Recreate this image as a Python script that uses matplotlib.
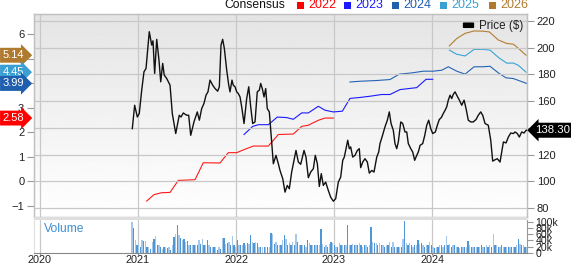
import numpy as np
import matplotlib
matplotlib.use("Agg")
import matplotlib.pyplot as plt
from matplotlib.patches import Rectangle, FancyBboxPatch
import matplotlib.transforms as mtransforms

plt.rcParams['font.family'] = ['Liberation Sans', 'DejaVu Sans']

# ---------------- data ----------------
years = [2020, 2021, 2022, 2023, 2024]

price_t = [2020.942, 2020.966, 2020.993, 2021.013, 2021.038, 2021.061, 2021.082, 2021.115, 2021.140, 2021.153,
           2021.170, 2021.191, 2021.214, 2021.232, 2021.252, 2021.268, 2021.293, 2021.327, 2021.350, 2021.385,
           2021.421, 2021.439, 2021.462, 2021.497, 2021.517, 2021.538, 2021.571, 2021.605, 2021.626, 2021.650,
           2021.673, 2021.694, 2021.714, 2021.735, 2021.762, 2021.786, 2021.813, 2021.830, 2021.847, 2021.864,
           2021.881, 2021.905, 2021.926, 2021.939, 2021.959, 2021.972, 2021.990, 2022.007, 2022.023, 2022.041,
           2022.058, 2022.082, 2022.109, 2022.130, 2022.150, 2022.170, 2022.194, 2022.217, 2022.238, 2022.252,
           2022.268, 2022.286, 2022.303, 2022.319, 2022.340, 2022.381, 2022.408, 2022.432, 2022.449, 2022.477,
           2022.500, 2022.523, 2022.544, 2022.568, 2022.612, 2022.636, 2022.660, 2022.694, 2022.714, 2022.738,
           2022.762, 2022.789, 2022.809, 2022.830, 2022.850, 2022.870, 2022.891, 2022.915, 2022.942, 2022.966,
           2022.993, 2023.017, 2023.044, 2023.068, 2023.089, 2023.105, 2023.140, 2023.156, 2023.170, 2023.191,
           2023.214, 2023.238, 2023.258, 2023.272, 2023.293, 2023.316, 2023.340, 2023.360, 2023.385, 2023.408,
           2023.436, 2023.456, 2023.469, 2023.490, 2023.520, 2023.544, 2023.564, 2023.582, 2023.605, 2023.622,
           2023.640, 2023.656, 2023.681, 2023.701, 2023.724, 2023.742, 2023.758, 2023.783, 2023.803, 2023.823,
           2023.844, 2023.860, 2023.878, 2023.905, 2023.926, 2023.946, 2023.966, 2023.987, 2024.007, 2024.034,
           2024.054, 2024.074, 2024.095, 2024.115, 2024.133, 2024.150, 2024.166, 2024.184, 2024.201, 2024.217,
           2024.235, 2024.252, 2024.279, 2024.303, 2024.327, 2024.347, 2024.370, 2024.395, 2024.421, 2024.449,
           2024.472, 2024.497, 2024.517, 2024.541, 2024.574, 2024.599, 2024.619, 2024.643, 2024.666, 2024.694,
           2024.711, 2024.728, 2024.755, 2024.779, 2024.803, 2024.830, 2024.847, 2024.870, 2024.891, 2024.915,
           2024.939, 2024.959, 2024.969]
price_v = [139.5, 157.0, 148.2, 150.8, 168.3, 182.0, 184.5, 212.0, 202.0, 205.2,
           180.8, 206.3, 190.8, 174.5, 188.3, 179.5, 177.0, 172.0, 150.8, 135.8,
           149.5, 148.2, 151.2, 149.5, 149.5, 134.5, 144.5, 152.0, 145.8, 154.5,
           158.3, 164.5, 167.0, 175.8, 172.0, 169.5, 167.5, 170.8, 202.0, 206.3,
           199.5, 183.3, 172.0, 167.0, 175.8, 172.0, 170.8, 167.0, 165.8, 163.2,
           155.8, 143.3, 162.0, 170.8, 155.8, 143.3, 144.5, 167.0, 168.3, 173.3,
           169.5, 163.2, 169.5, 154.5, 152.0, 113.2, 119.5, 113.2, 108.2, 102.0,
           92.0, 97.0, 94.5, 107.0, 123.2, 114.5, 112.8, 123.2, 118.2, 102.8,
           107.0, 109.5, 119.5, 113.2, 96.2, 105.8, 97.0, 99.5, 93.2, 88.2,
           85.2, 87.0, 99.5, 103.2, 115.8, 118.2, 130.8, 124.5, 125.8, 118.2,
           119.5, 123.2, 124.5, 110.3, 114.5, 117.0, 114.5, 106.2, 108.2, 107.0,
           118.2, 122.0, 128.3, 133.2, 140.8, 145.8, 152.0, 143.3, 138.2, 128.3,
           124.5, 129.5, 144.5, 143.3, 137.0, 137.0, 128.3, 124.5, 122.0, 115.8,
           119.5, 122.0, 127.0, 128.3, 134.5, 142.0, 145.8, 139.5, 135.8, 137.0,
           142.0, 146.3, 147.8, 150.8, 153.2, 155.8, 160.8, 164.5, 162.0, 165.2,
           167.0, 164.5, 160.8, 157.0, 160.8, 154.5, 145.8, 144.5, 144.5, 146.3,
           149.5, 152.0, 149.5, 143.3, 142.0, 130.8, 115.2, 116.2, 117.0, 114.5,
           122.0, 129.5, 128.8, 133.2, 136.2, 135.8, 137.0, 135.8, 133.2, 137.0,
           136.2, 138.2, 138.3]
last_price = 138.30

eps22_t = [2021.089, 2021.163, 2021.242, 2021.327, 2021.411, 2021.582, 2021.666, 2021.837, 2021.921, 2022.007,
           2022.092, 2022.177, 2022.330, 2022.432, 2022.585, 2022.670, 2022.738, 2022.840, 2022.908, 2022.993]
eps22_v = [-0.80, -0.54, -0.46, -0.45, 0.04, 0.07, 0.76, 0.75, 1.17, 1.17,
           1.31, 1.44, 1.44, 1.91, 1.93, 2.24, 2.29, 2.49, 2.58, 2.58]

eps23_t = [2022.082, 2022.170, 2022.228, 2022.330, 2022.421, 2022.517, 2022.585, 2022.670, 2022.738, 2022.840,
           2022.908, 2022.993, 2023.085, 2023.163, 2023.265, 2023.367, 2023.487, 2023.571, 2023.673, 2023.758,
           2023.844, 2023.939, 2024.007]
eps23_v = [1.91, 2.24, 2.31, 2.31, 2.62, 2.60, 2.53, 2.79, 2.79, 3.06,
           2.90, 2.83, 2.86, 3.38, 3.42, 3.47, 3.54, 3.54, 3.74, 3.78,
           3.82, 4.16, 4.16]

eps24_t = [2023.163, 2023.265, 2023.436, 2023.571, 2023.666, 2023.793, 2023.911, 2024.013, 2024.099, 2024.166,
           2024.252, 2024.337, 2024.429, 2024.517, 2024.592, 2024.677, 2024.755, 2024.830, 2024.966]
eps24_v = [4.05, 4.08, 4.11, 4.15, 4.37, 4.42, 4.49, 4.49, 4.53, 4.67,
           4.49, 4.37, 4.67, 4.67, 4.69, 4.42, 4.22, 4.19, 3.99]

eps25_t = [2024.177, 2024.252, 2024.337, 2024.429, 2024.517, 2024.592, 2024.677, 2024.762, 2024.830, 2024.881, 2024.959]
eps25_v = [5.35, 5.18, 5.11, 5.38, 5.38, 5.35, 5.05, 4.82, 4.82, 4.73, 4.45]

eps26_t = [2024.177, 2024.252, 2024.337, 2024.429, 2024.517, 2024.585, 2024.677, 2024.762, 2024.830, 2024.881, 2024.959]
eps26_v = [5.52, 5.82, 6.03, 6.13, 6.12, 6.09, 5.76, 5.62, 5.59, 5.42, 5.14]

series_names = ['2022', '2023', '2024', '2025', '2026']
series_colors = ['#ff1a1a', '#1a1aff', '#2463b5', '#3aa3d6', '#b27d2e']
label_colors = ['#ff0000', '#1a1aff', '#1f5fae', '#3a9fd2', '#b07a2e']

vol_a = [99, 81, 40, 24, 29, 18, 42, 38, 38, 20, 20, 13, 34, 45, 54, 24, 24, 18, 13, 18,
         18, 15, 20, 10, 27, 51, 61, 90, 56, 48, 40, 45, 34, 38, 24, 24, 27, 24, 24, 24,
         42, 29, 45, 24, 27, 42, 24, 20, 18, 18, 18, 10, 18, 13, 48, 48, 29, 31, 34, 27,
         55, 27, 18, 42, 24, 24, 27, 31, 24, 31, 29, 56, 34, 31, 34, 31, 20, 20, 20]
vol_b = [20, 20, 20, 20, 63, 61, 29, 34, 26, 24, 24, 42, 58, 45, 24, 31, 27, 34, 24, 61,
         34, 24, 24, 27, 24, 18, 42, 31, 24, 24, 27, 24, 24, 27, 77, 29, 18, 24, 18, 29,
         34, 31, 27, 18, 18, 31, 24, 27, 24, 27, 88, 24, 24, 29, 24, 27, 24, 31, 24, 20,
         27, 24, 20, 24, 83, 34, 31, 31, 27, 31, 24, 24, 18, 24, 27, 34, 18, 34, 20, 20]
vol_c = [20, 20, 20, 45, 103, 31, 24, 31, 24, 20, 24, 27, 42, 29, 31, 27, 18, 26, 26, 34,
         24, 18, 15, 18, 18, 24, 27, 20, 24, 54, 24, 29, 20, 27, 24, 18, 18, 15, 18, 20,
         18, 18, 38, 24, 20, 18, 18, 20, 18, 20, 24, 18, 20, 24, 20, 24, 20, 61, 24, 24,
         18, 20, 27, 18, 20, 18, 18, 18, 18, 20, 18, 24, 45, 29, 26, 24, 20, 18]
vol_k = vol_a + vol_b + vol_c
vol_start, vol_end = 2020.94, 2024.965

# ---------------- layout (pixels) ----------------
W, H = 571, 264
fig = plt.figure(figsize=(W / 100, H / 100), dpi=100)
fig.patch.set_facecolor('white')


def fx(px):
    return px / W


def fy(py):
    return 1 - py / H


L, R, T, B = 34, 527, 14, 216.5
VT, VB = 219.5, 253
ax = fig.add_axes([fx(L), fy(B), fx(R - L), (B - T) / H])
axp = ax.twinx()
axv = fig.add_axes([fx(L), fy(VB), fx(R - L), (VB - VT) / H])

xlim = (2019.939, 2024.969)
grid_c = '#c8c8c8'
spine_c = '#c0c0c0'
txt_c = '#222222'

# gradient background
grad = np.linspace(0.895, 1.0, 256).reshape(-1, 1)
ax.imshow(grad, cmap='gray', vmin=0, vmax=1, extent=[0, 1, 0, 1], transform=ax.transAxes,
          aspect='auto', zorder=0, interpolation='bilinear')

# EPS lines
eps_t = [eps22_t, eps23_t, eps24_t, eps25_t, eps26_t]
eps_v = [eps22_v, eps23_v, eps24_v, eps25_v, eps26_v]
for t, v, c in zip(eps_t, eps_v, series_colors):
    ax.plot(t, v, color=c, lw=0.8, zorder=2)

ax.set_xlim(*xlim)
ax.set_ylim(-1.43, 6.82)
ax.set_yticks(list(range(-1, 7)))
ax.set_xticks(years)
ax.tick_params(axis='x', length=0, labelbottom=False)
ax.tick_params(axis='y', direction='out', length=5, width=0.8, color='#999999',
               labelsize=8, labelcolor=txt_c, pad=2)
ax.grid(axis='x', color=grid_c, lw=0.9, zorder=0.5)
ax.set_axisbelow(True)

# price
axp.plot(price_t, price_v, color='#111111', lw=1.0, zorder=3)
axp.set_xlim(*xlim)
axp.set_ylim(73.75, 225.25)
axp.set_yticks(list(range(80, 221, 20)))
axp.tick_params(axis='y', direction='out', length=5, width=0.8, color='#999999',
                labelsize=8, labelcolor=txt_c, pad=2)
axp.grid(axis='y', color=grid_c, lw=0.9)
axp.set_axisbelow(True)

for a in (ax, axp):
    for s in a.spines.values():
        s.set_color(spine_c)
        s.set_linewidth(0.9)

# volume
vol_t = np.linspace(vol_start, vol_end, len(vol_k))
bar_cols = ['#a6c8ea' if i % 2 == 0 else '#5196d4' for i in range(len(vol_k))]
axv.bar(vol_t, vol_k, width=0.0135, color=bar_cols, linewidth=0, zorder=2)
axv.set_xlim(*xlim)
axv.set_ylim(0, 106.5)
axv.set_xticks(years)
axv.set_xticklabels([str(y) for y in years])
axv.tick_params(axis='x', direction='out', length=1.5, color='#888888', labelsize=7.8,
                labelcolor=txt_c, pad=0)
axv.yaxis.tick_right()
axv.set_yticks([0, 20, 40, 60, 80, 100])
axv.set_yticklabels(['0', '20k', '40k', '60k', '80k', '100k'])
axv.tick_params(axis='y', direction='out', length=4, width=0.8, color='#999999',
                labelsize=7.6, labelcolor=txt_c, pad=2)
axv.grid(axis='x', color=grid_c, lw=0.9, zorder=0.5)
axv.set_axisbelow(True)
axv.set_facecolor('white')
axv.spines['top'].set_visible(False)
axv.spines['left'].set_color('#e0e0e0')
axv.spines['right'].set_color('#999999')
axv.spines['bottom'].set_color('#888888')
axv.text((44 - L) / (R - L), (VB - 229) / (VB - VT), 'Volume', transform=axv.transAxes,
         color='#3d8fd3', fontsize=8.7, va='center', ha='left')

# separator band
fig.patches.append(Rectangle((fx(L), fy(VT)), fx(R - L), (VT - B) / H, transform=fig.transFigure,
                             facecolor='#dedede', edgecolor='none', zorder=5))

# left value labels
blend_l = mtransforms.blended_transform_factory(fig.transFigure, ax.transData)
for name in ['2026', '2025', '2024', '2022']:
    i = series_names.index(name)
    val = eps_v[i][-1]
    ax.text(fx(2.5), val, f'{val:.2f}', transform=blend_l, color='white', fontsize=8,
            ha='left', va='center', zorder=10, clip_on=False,
            bbox=dict(boxstyle='rarrow,pad=0.22', fc=label_colors[i], ec='none'))

# right price label
blend_r = mtransforms.blended_transform_factory(fig.transFigure, axp.transData)
axp.text(fx(535.5), last_price, f'{last_price:.2f}', transform=blend_r, color='white', fontsize=8.2,
         ha='left', va='center', zorder=10, clip_on=False,
         bbox=dict(boxstyle='larrow,pad=0.22', fc='black', ec='none'))

# price legend
fig.patches.append(FancyBboxPatch((fx(464), fy(27.5)), fx(9), 4.5 / H, boxstyle='round,pad=0.002',
                                  transform=fig.transFigure, facecolor='black', edgecolor='none', zorder=6))
fig.text(fx(479), fy(25.5), 'Price ($)', fontsize=8.4, color=txt_c, va='center', ha='left')

# top consensus legend
fig.text(fx(224), fy(5.5), 'Consensus', fontsize=8.7, color='#111111', va='center', ha='left')
sq_x = [297, 344, 392, 440, 489]
for x0, name, c in zip(sq_x, series_names, label_colors):
    fig.patches.append(Rectangle((fx(x0), fy(9)), fx(7), 7 / H, transform=fig.transFigure,
                                 facecolor=c, edgecolor='none'))
    fig.text(fx(x0 + 11), fy(5.5), name, fontsize=9, color=c, va='center', ha='left')

fig.savefig('out.png', dpi=100)
